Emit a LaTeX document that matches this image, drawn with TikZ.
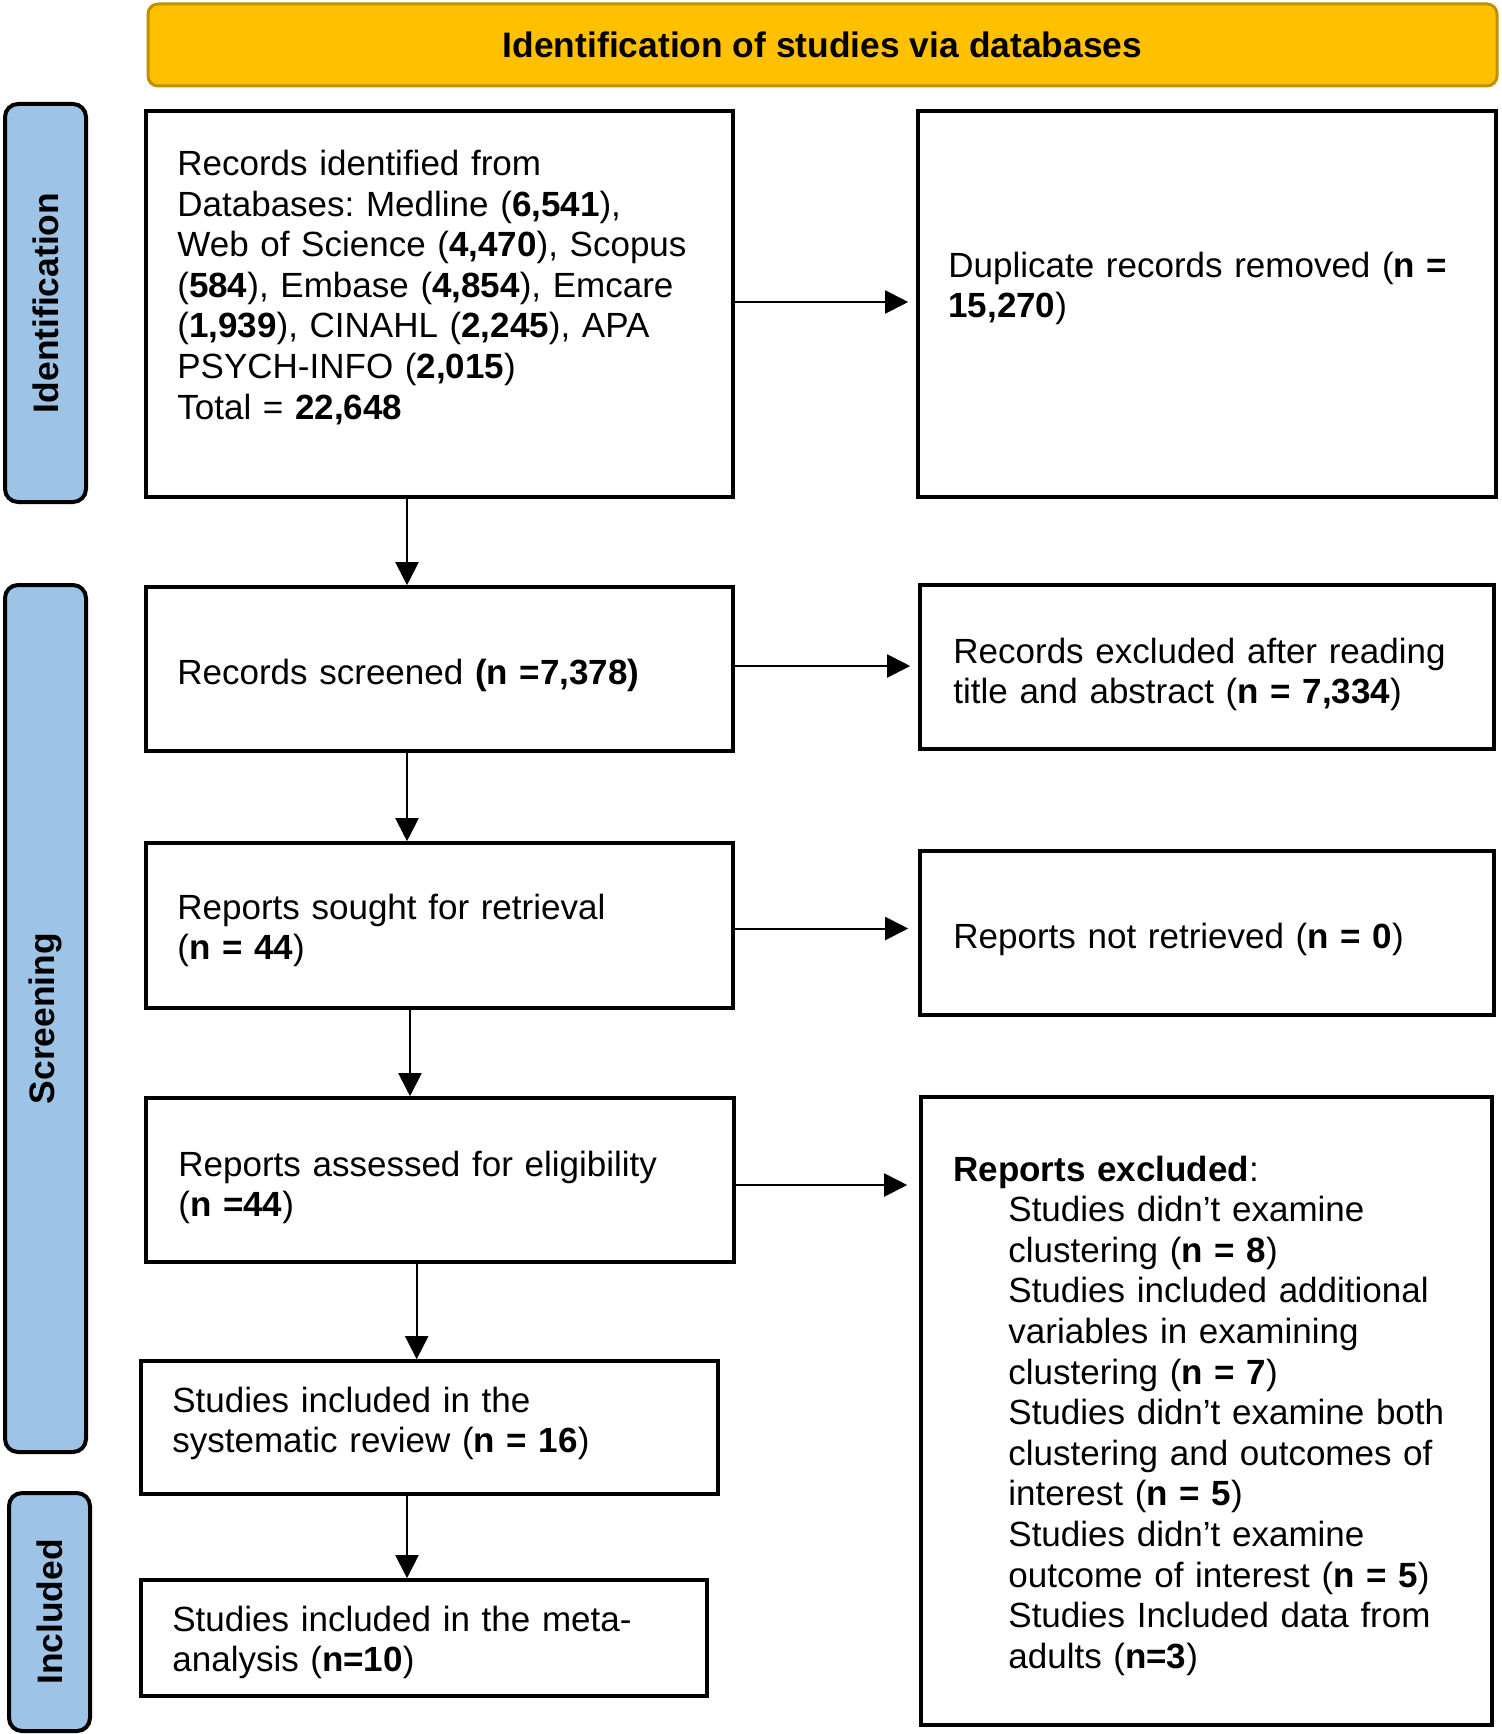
\documentclass[tikz,border=0pt]{standalone}
\usepackage{fontspec}
\setmainfont{Liberation Sans}
\usetikzlibrary{arrows.meta,calc}
\definecolor{hdrfill}{HTML}{FFC000}
\definecolor{hdrdraw}{HTML}{BF9000}
\definecolor{lblfill}{HTML}{9DC3E6}
\frenchspacing
\begin{document}
\begin{tikzpicture}[x=0.5pt,y=-0.5pt,
  font=\fontsize{17.5}{20.3}\selectfont,
  box/.style={draw, line width=1.8pt, inner sep=0pt, rectangle},
  lbl/.style={draw, line width=2pt, fill=lblfill, rounded corners=6.5pt, rotate=90, inner sep=0pt, minimum height=40.5pt, font=\fontsize{17.7}{20.3}\selectfont\bfseries},
  txt/.style={anchor=base west, inner sep=0pt, align=left, text width=#1},
  txt/.default=290pt,
  arr/.style={line width=1pt, -{Triangle[length=11.5pt,width=11.5pt]}},
]
\useasboundingbox (0,0) rectangle (1502,1734);

% header
\node[draw=hdrdraw, line width=1.5pt, fill=hdrfill, rounded corners=5pt, minimum width=674.5pt, minimum height=41pt, inner sep=0pt, font=\fontsize{17.7}{20.3}\selectfont\bfseries] (hdr) at (822.5,45) {Identification of studies via databases};

% side labels
\node[lbl, minimum width=199pt] (lid) at (45.5,303) {Identification};
\node[lbl, minimum width=433.5pt] (lsc) at (45.5,1018.5) {Screening};
\node[lbl, minimum width=119pt] (lin) at (49.5,1612) {Included};

% boxes
\node[box, minimum width=293.5pt, minimum height=193pt] (b1) at (439.5,304) {};
\node[box, minimum width=289pt, minimum height=193pt] (dup) at (1207,304) {};
\node[box, minimum width=293.5pt, minimum height=82pt] (scr) at (439.5,669) {};
\node[box, minimum width=287pt, minimum height=82pt] (excl) at (1207,667) {};
\node[box, minimum width=293.5pt, minimum height=82.5pt] (sought) at (439.5,925.5) {};
\node[box, minimum width=287pt, minimum height=82pt] (notret) at (1207,933) {};
\node[box, minimum width=294pt, minimum height=82pt] (ass) at (440,1180) {};
\node[box, minimum width=285.5pt, minimum height=314pt] (rep) at (1206.5,1411) {};
\node[box, minimum width=288.5pt, minimum height=66.5pt] (sr) at (429.5,1427.5) {};
\node[box, minimum width=283pt, minimum height=58pt] (meta) at (424,1638) {};

% texts
\node[txt] (t1) at (177,175.5) {Records identified from\\
Databases: Medline (\textbf{6,541}),\\
Web of Science (\textbf{4,470}), Scopus\\
(\textbf{584}), Embase (\textbf{4,854}), Emcare\\
(\textbf{1,939}), CINAHL (\textbf{2,245}), APA\\
PSYCH-INFO (\textbf{2,015})\\
Total = \textbf{22,648}};
\node[txt] (tdup) at (948,277) {Duplicate records removed (\textbf{n =}\\ \textbf{15,270})};
\node[txt] (tscr) at (177,684) {Records screened \textbf{(n =7,378)}};
\node[txt] (texcl) at (953,663) {Records excluded after reading\\ title and abstract (\textbf{n = 7,334})};
\node[txt] (tsought) at (177,919) {Reports sought for retrieval\\ (\textbf{n = 44})};
\node[txt] (tnot) at (953,948) {Reports not retrieved (\textbf{n = 0})};
\node[txt] (tass) at (178,1176) {Reports assessed for eligibility\\ (\textbf{n =44})};
\node[txt] (tsr) at (172,1412) {Studies included in the\\ systematic review (\textbf{n = 16})};
\node[txt] (tmeta) at (172,1631) {Studies included in the meta-\\ analysis (\textbf{n=10})};
\node[txt] (trep) at (953,1181) {\textbf{Reports excluded}:};
\node[txt=260pt] (trep2) at (1008,1221.6) {Studies didn’t examine\\
clustering (\textbf{n = 8})\\
Studies included additional\\
variables in examining\\
clustering (\textbf{n = 7})\\
Studies didn’t examine both\\
clustering and outcomes of\\
interest (\textbf{n = 5})\\
Studies didn’t examine\\
outcome of interest (\textbf{n = 5})\\
Studies Included data from\\
adults (\textbf{n=3})};

% helper coordinates
\coordinate (xa) at (407,0);
\coordinate (xb) at (410,0);
\coordinate (xc) at (416.7,0);
\coordinate (ya) at (0,302);
\coordinate (yb) at (0,666);
\coordinate (yc) at (0,928.5);
\coordinate (yd) at (0,1185);

% arrows
\draw[arr] (b1.south -| xa) -- (scr.north -| xa);
\draw[arr] (scr.south -| xa) -- (sought.north -| xa);
\draw[arr] (sought.south -| xb) -- (ass.north -| xb);
\draw[arr] (ass.south -| xc) -- (sr.north -| xc);
\draw[arr] (sr.south -| xa) -- (meta.north -| xa);
\draw[arr, shorten >=4pt] (b1.east |- ya) -- (dup.west |- ya);
\draw[arr, shorten >=4pt] (scr.east |- yb) -- (excl.west |- yb);
\draw[arr, shorten >=5pt] (sought.east |- yc) -- (notret.west |- yc);
\draw[arr, shorten >=6pt] (ass.east |- yd) -- (rep.west |- yd);
\end{tikzpicture}
\end{document}
